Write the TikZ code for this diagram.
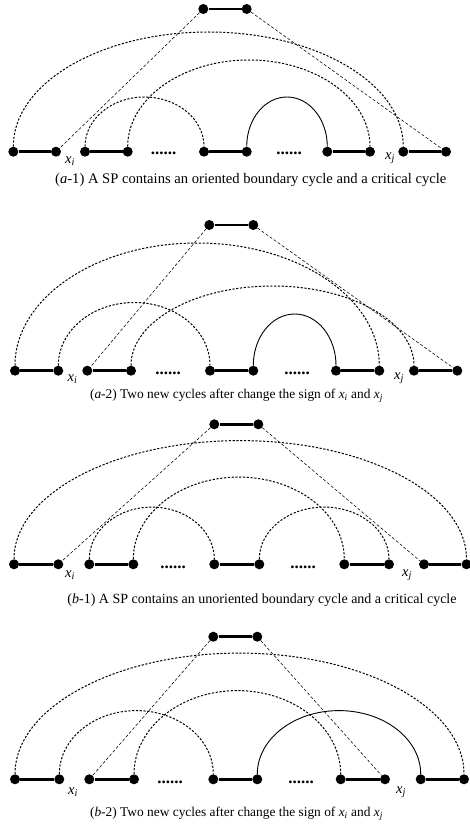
\documentclass[tikz,border=0pt]{standalone}
\usepackage{fontspec}
\setmainfont{Liberation Serif}
\usetikzlibrary{calc}
\tikzset{
  dot/.style={circle,fill=black,inner sep=0pt,minimum size=10pt},
  bar/.style={line width=2.6pt},
  cyc/.style={line width=1pt,dash pattern=on 2.2pt off 1.6pt},
  solidcyc/.style={line width=0.9pt},
  link/.style={line width=0.55pt,dash pattern=on 3pt off 2pt},
  lbl/.style={inner sep=0pt,font=\fontsize{14.6}{14}\selectfont},
  figcap/.style={inner sep=0pt,font=\fontsize{#1}{16}\selectfont},
  gap/.style={inner sep=0pt,anchor=base,font=\fontsize{17}{17}\selectfont\bfseries},
}
% half-ellipse from the top of one dot to the top of another
\newcommand\bridge[4][cyc]{%
  \draw[#1] let \p1=(#2.north), \p2=(#3.north) in
    (\p1) arc[start angle=180,end angle=0,x radius={(\x2-\x1)/2},y radius=#4pt];}
\newcommand\varXi{\textit{x}\textsubscript{\textit{i}}}
\newcommand\varXj{\textit{x}\textsubscript{\textit{j}}}
\begin{document}
\begin{tikzpicture}[x=1pt,y=-1pt]
\useasboundingbox (0,0) rectangle (470,829);

% ---------------- (a-1) ----------------
\foreach \x [count=\k] in {13.3,56,85,127.7,204,246.7,327.3,370,403.3,446}
  \node[dot] (pAd\k) at (\x,151.7) {};
\node[dot] (pAt1) at (203.3,9) {};
\node[dot] (pAt2) at (246.7,9) {};
\draw[bar] (pAt1) -- (pAt2);
\foreach \a/\b in {1/2,3/4,5/6,7/8,9/10} \draw[bar] (pAd\a) -- (pAd\b);
\bridge{pAd1}{pAd9}{114.5}
\bridge{pAd4}{pAd8}{86.5}
\bridge{pAd3}{pAd5}{49.5}
\bridge[solidcyc]{pAd6}{pAd7}{49.5}
\draw[link] (pAt1) -- (pAd2);
\draw[link] (pAt2) -- (pAd10);
\node[gap] (pAg1) at (163.5,155) {......};
\node[gap] (pAg2) at (289,155) {......};
\node[lbl] (pAxi) at (70,161.5) {\varXi};
\node[lbl] (pAxj) at (390,158) {\varXj};
\node[figcap=14.6] (pAcap) at (250.8,180.5) {(\textit{a}-1) A SP contains an oriented boundary cycle and a critical cycle};

% ---------------- (a-2) ----------------
\foreach \x [count=\k] in {15,58.3,87.3,131,210,253.3,336,379.3,414,457.3}
  \node[dot] (pBd\k) at (\x,370.7) {};
\node[dot] (pBt1) at (209.3,225) {};
\node[dot] (pBt2) at (253.3,225) {};
\draw[bar] (pBt1) -- (pBt2);
\foreach \a/\b in {1/2,3/4,5/6,7/8,9/10} \draw[bar] (pBd\a) -- (pBd\b);
\bridge{pBd1}{pBd8}{122.5}
\bridge{pBd2}{pBd5}{63}
\bridge{pBd4}{pBd9}{79.5}
\bridge[solidcyc]{pBd6}{pBd7}{51.5}
\draw[link] (pBt1) -- (pBd3);
\draw[link] (pBt2) -- (pBd10);
\node[gap] (pBg1) at (168,374) {......};
\node[gap] (pBg2) at (297,374) {......};
\node[lbl] (pBxi) at (72.5,379) {\varXi};
\node[lbl] (pBxj) at (399,378) {\varXj};
\node[figcap=13.4] (pBcap) at (236.5,395.5) {(\textit{a}-2) Two new cycles after change the sign of \varXi{} and \varXj};

% ---------------- (b-1) ----------------
\foreach \x [count=\k] in {14,58.3,89.3,133.3,214.3,259.3,344.3,389,424,466.5}
  \node[dot] (pCd\k) at (\x,564.3) {};
\node[dot] (pCt1) at (214.3,424.3) {};
\node[dot] (pCt2) at (258.3,424.3) {};
\draw[bar] (pCt1) -- (pCt2);
\foreach \a/\b in {1/2,3/4,5/6,7/8,9/10} \draw[bar] (pCd\a) -- (pCd\b);
\bridge{pCd1}{pCd10}{118.5}
\bridge{pCd4}{pCd7}{82}
\bridge{pCd3}{pCd5}{52}
\bridge{pCd6}{pCd8}{52}
\draw[link] (pCt1) -- (pCd2);
\draw[link] (pCt2) -- (pCd9);
\node[gap] (pCg1) at (173,568) {......};
\node[gap] (pCg2) at (303,568) {......};
\node[lbl] (pCxi) at (70,575) {\varXi};
\node[lbl] (pCxj) at (407,575) {\varXj};
\node[figcap=14] (pCcap) at (262,600) {(\textit{b}-1) A SP contains an unoriented boundary cycle and a critical cycle};

% ---------------- (b-2) ----------------
\foreach \x [count=\k] in {15,59.3,89.3,134,213.3,257.3,340.7,385,420.7,464}
  \node[dot] (pDd\k) at (\x,779.3) {};
\node[dot] (pDt1) at (213.3,636.7) {};
\node[dot] (pDt2) at (257.3,636.7) {};
\draw[bar] (pDt1) -- (pDt2);
\foreach \a/\b in {1/2,3/4,5/6,7/8,9/10} \draw[bar] (pDd\a) -- (pDd\b);
\bridge{pDd1}{pDd10}{121}
\bridge{pDd2}{pDd5}{63.5}
\bridge{pDd4}{pDd7}{83.5}
\bridge[solidcyc]{pDd6}{pDd9}{63.5}
\draw[link] (pDt1) -- (pDd3);
\draw[link] (pDt2) -- (pDd8);
\node[gap] (pDg1) at (170,783) {......};
\node[gap] (pDg2) at (301,783) {......};
\node[lbl] (pDxi) at (73,792) {\varXi};
\node[lbl] (pDxj) at (401,792) {\varXj};
\node[figcap=13.4] (pDcap) at (236.5,814) {(\textit{b}-2) Two new cycles after change the sign of \varXi{} and \varXj};
\end{tikzpicture}
\end{document}
